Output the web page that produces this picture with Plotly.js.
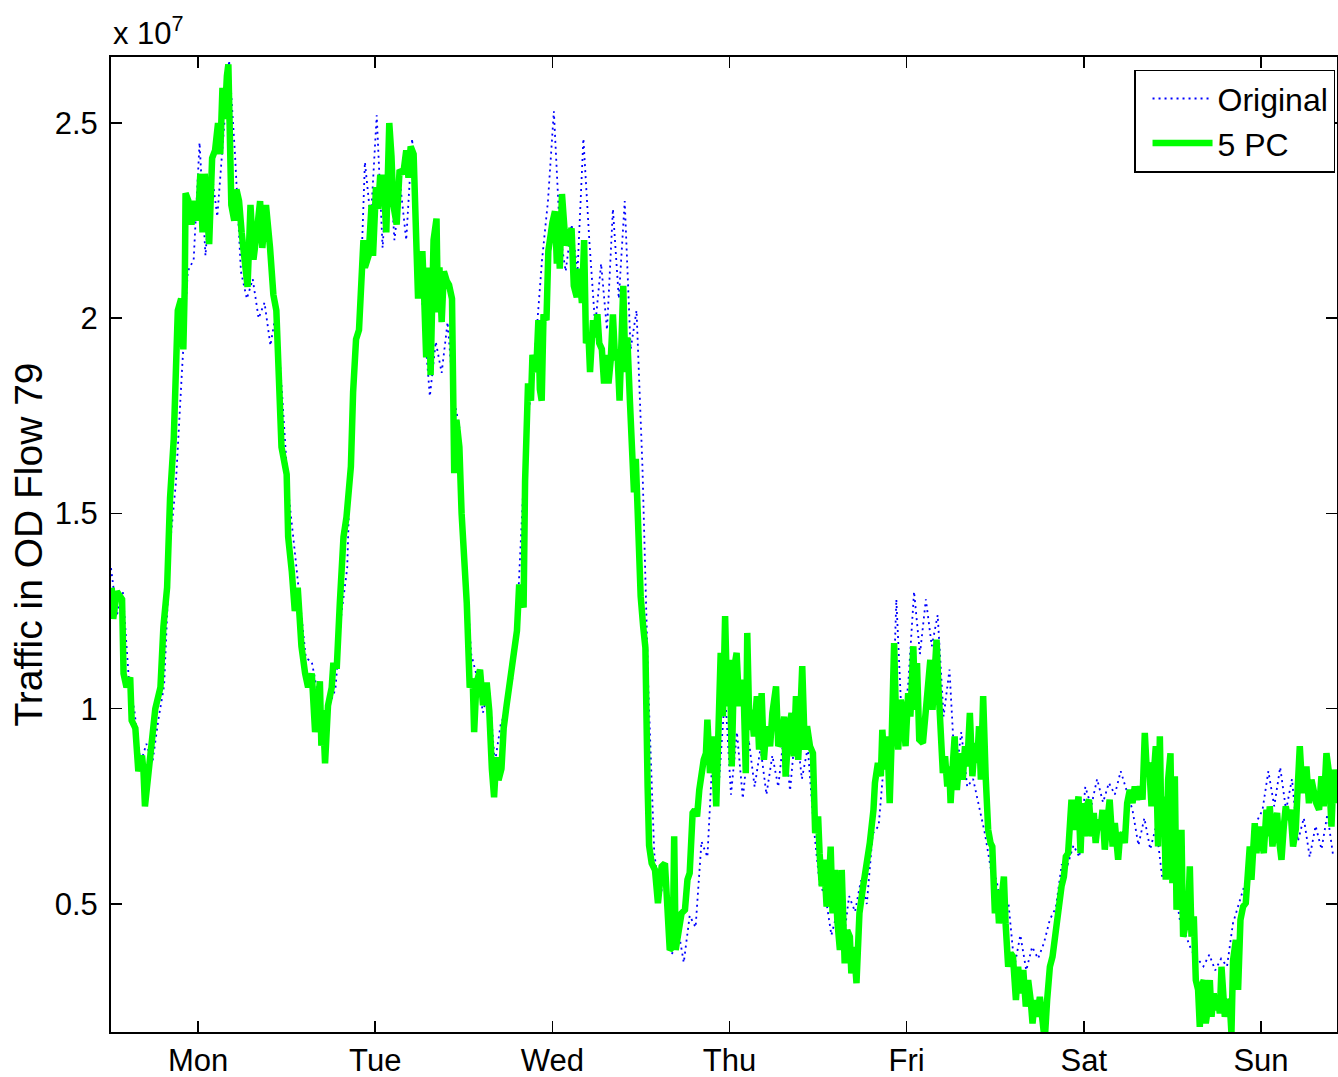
<!DOCTYPE html>
<html>
<head>
<meta charset="utf-8">
<script src="https://cdn.plot.ly/plotly-3.0.1.min.js"></script>
<style>html,body{margin:0;padding:0;background:#fff;}</style>
</head>
<body>
<div id="chart" style="width:1338px;height:1077px;"></div>
<script>
// Hours since Monday 00:00; values in units of 1e7
const dayTickHours = [12, 36, 60, 84, 108, 132, 156];
const dayLabels = ['Mon', 'Tue', 'Wed', 'Thu', 'Fri', 'Sat', 'Sun'];
const yTickVals = [0.5, 1, 1.5, 2, 2.5];
const yTickText = ['0.5', '1', '1.5', '2', '2.5'];

const origHours = [0.2,1,1.8,2.6,3.4,4.2,5,5.8,6.6,7.4,8.2,9,9.8,10.6,11.4,12.2,13,13.8,14.6,15.4,16.2,17,17.8,18.6,19.4,20.2,21,21.8,22.6,23.4,24.2,25,25.8,26.6,27.4,28.2,29,29.8,30.6,31.4,32.2,33,33.8,34.6,35.4,36.2,37,37.8,38.6,39.4,40.2,41,41.8,42.6,43.4,44.2,45,45.8,46.6,47.4,48.2,49,49.8,50.6,51.4,52.2,53,53.8,54.6,55.4,56.2,57,57.8,58.6,59.4,60.2,61,61.8,62.6,63.4,64.2,65,65.8,66.6,67.4,68.2,69,69.8,70.6,71.4,72.2,73,73.8,74.6,75.4,76.2,77,77.8,78.6,79.4,80.2,81,81.8,82.6,83.4,84.2,85,85.8,86.6,87.4,88.2,89,89.8,90.6,91.4,92.2,93,93.8,94.6,95.4,96.2,97,97.8,98.6,99.4,100.2,101,101.8,102.6,103.4,104.2,105,105.8,106.6,107.4,108.2,109,109.8,110.6,111.4,112.2,113,113.8,114.6,115.4,116.2,117,117.8,118.6,119.4,120.2,121,121.8,122.6,123.4,124.2,125,125.8,126.6,127.4,128.2,129,129.8,130.6,131.4,132.2,133,133.8,134.6,135.4,136.2,137,137.8,138.6,139.4,140.2,141,141.8,142.6,143.4,144.2,145,145.8,146.6,147.4,148.2,149,149.8,150.6,151.4,152.2,153,153.8,154.6,155.4,156.2,157,157.8,158.6,159.4,160.2,161,161.8,162.6,163.4,164.2,165,165.8];
const origValues = [1.36,1.24,1.30,1.08,0.99,0.86,0.91,0.86,0.97,1.06,1.42,1.58,1.86,2.12,2.15,2.45,2.16,2.38,2.26,2.47,2.66,2.42,2.12,2.05,2.10,2.00,2.04,1.93,2.02,1.80,1.56,1.42,1.27,1.13,1.12,1.04,
0.92,1.01,1.05,1.24,1.36,1.88,1.96,2.40,2.25,2.52,2.18,2.45,2.20,2.34,2.20,2.46,2.18,1.98,1.80,1.94,1.86,1.99,1.80,1.72,1.38,1.14,1.08,0.99,1.06,0.86,0.96,1.00,1.08,1.30,1.62,1.80,1.95,2.15,2.30,2.53,2.22,2.12,2.24,2.12,2.46,2.20,1.98,2.14,1.97,2.28,2.05,2.30,1.92,2.02,1.62,1.05,0.63,0.52,0.58,0.37,0.44,
0.35,0.47,0.44,0.66,0.62,0.92,0.82,1.04,0.78,0.94,0.77,0.92,0.80,0.90,0.78,0.88,0.80,0.94,0.79,0.96,0.82,0.90,0.70,0.55,0.52,0.42,0.48,0.40,0.52,0.48,0.56,0.50,0.68,0.70,0.88,0.80,1.28,0.94,1.06,1.30,1.14,1.28,1.16,1.24,0.98,1.10,0.82,0.94,0.80,0.82,0.75,0.68,0.59,0.56,0.46,0.50,0.34,0.42,0.33,0.39,0.36,0.40,0.46,0.49,0.60,0.60,0.65,0.62,0.80,0.75,0.82,0.76,0.81,0.78,0.84,0.79,0.74,0.65,0.72,0.64,0.70,0.57,0.62,0.56,0.46,0.42,0.38,0.36,0.34,0.37,0.33,0.36,0.34,0.45,0.50,0.55,0.64,0.71,0.74,0.84,0.75,0.85,0.74,0.82,0.66,0.72,0.62,0.70,0.64,0.73,0.62];

const pcHours = [0.3,0.5,1.0,1.7,1.9,2.3,2.8,3.0,3.5,3.9,4.4,4.6,4.8,5.3,5.7,6.2,6.9,7.3,7.8,8.2,8.7,8.9,9.25,9.7,10.0,10.2,10.3,10.7,11.1,11.6,12.0,12.3,12.6,12.9,13.2,13.5,13.9,14.3,14.7,15.0,15.3,15.6,15.9,16.1,16.5,16.9,17.2,17.55,17.9,18.4,18.7,19.1,19.5,19.95,20.4,20.7,21.2,21.75,22.2,22.6,22.9,23.3,24.0,24.2,24.7,25.1,25.5,26.0,26.5,26.9,27.4,27.85,28.5,
28.7,28.9,29.2,29.6,30.1,30.3,30.8,31.2,31.7,32.1,32.4,32.7,33.0,33.4,33.8,34.1,34.4,34.6,35.1,35.5,35.7,36.1,36.4,36.65,37.1,37.5,37.6,37.9,38.2,38.45,38.9,39.3,39.8,40.2,40.5,40.8,41.2,41.4,41.6,41.8,42.1,42.4,42.6,42.9,43.2,43.5,43.9,44.3,44.5,44.7,45.0,45.3,45.7,46.0,46.4,46.7,47.0,47.4,47.7,47.9,48.4,48.8,49.2,49.4,49.7,50.2,
50.6,51.1,51.45,51.8,52.1,52.4,52.7,53.1,53.4,53.8,54.3,54.7,55.2,55.5,56.1,56.3,56.5,56.7,57.1,57.3,57.8,58.1,58.3,58.55,58.8,59.2,59.45,59.7,60.0,60.35,60.6,60.8,61.0,61.3,61.5,61.8,62.3,62.6,62.9,63.3,63.6,64.0,64.3,64.55,64.9,65.1,65.5,65.8,66.1,66.35,66.7,67.0,67.3,67.6,67.9,68.2,68.5,68.8,69.1,69.4,69.6,69.9,70.15,70.5,70.9,71.05,71.3,71.6,71.96,72.3,72.6,72.9,73.1,
73.45,73.9,74.3,74.8,75.25,75.6,75.9,76.3,76.5,76.7,77.2,77.5,77.96,78.3,78.6,79.0,79.3,79.6,79.9,80.2,80.5,80.8,81.0,81.35,81.8,82.2,82.5,82.8,83.1,83.4,83.7,84.05,84.3,84.6,84.96,85.3,85.6,85.95,86.2,86.4,86.7,87.0,87.3,87.7,88.0,88.35,88.66,89.0,89.5,89.8,90.3,90.6,91.06,91.4,91.6,91.95,92.4,92.7,93.0,93.3,93.6,93.85,94.2,94.5,94.9,95.3,95.6,96.0,96.2,96.5,96.8,97.15,97.5,97.7,97.96,98.3,98.6,98.95,99.2,99.4,99.6,99.94,100.3,100.5,100.85,101.2,101.6,
102.1,102.6,103.0,103.5,103.7,104.1,104.5,104.7,105.05,105.36,105.7,105.95,106.3,106.5,106.85,107.2,107.5,107.85,108.2,108.5,108.9,109.15,109.4,109.7,110.2,110.6,110.9,111.2,111.5,111.8,112.05,112.3,112.5,112.7,112.9,113.2,113.5,113.76,113.95,114.2,114.5,114.8,115.2,115.6,115.9,116.2,116.56,116.9,117.24,117.55,117.8,118.05,118.36,118.7,119.04,119.36,119.6,119.95,120.26,120.5,120.85,121.17,121.4,121.75,122.07,122.4,122.8,123.1,123.4,123.8,124.14,124.46,124.8,125.05,125.36,125.7,126.04,126.4,126.7,127.03,127.4,127.76,128.07,128.4,128.65,128.98,129.3,129.56,129.87,130.1,130.33,130.65,131.0,131.28,131.55,131.8,
132.14,132.37,132.7,133.04,133.35,133.6,133.94,134.26,134.53,134.84,135.16,135.5,135.9,136.2,136.65,136.9,137.24,137.55,137.87,138.23,138.6,138.9,139.2,139.6,139.95,140.26,140.5,140.84,141.17,141.5,141.75,142.06,142.3,142.52,142.84,143.1,143.42,143.74,144.0,144.33,144.56,144.9,145.23,145.45,145.8,146.13,146.36,146.59,146.9,147.17,147.48,147.71,147.94,148.25,148.52,148.84,149.07,149.3,149.6,149.88,150.19,150.42,150.65,150.87,151.1,151.4,151.77,152.0,152.22,152.59,152.9,153.22,153.58,153.94,154.25,154.48,154.71,154.93,155.16,155.39,155.74,156.07,156.38,156.74,156.96,157.19,157.56,157.87,158.18,158.45,158.78,159.09,159.36,159.67,160.0,160.35,160.71,161.03,161.26,161.49,161.8,162.16,162.5,162.84,163.15,163.5,163.87,164.19,164.5,164.87,165.22,165.55,165.86,166.2];
const pcValues = [1.31,1.23,1.30,1.28,1.09,1.055,1.08,0.97,0.95,0.84,0.88,0.84,0.75,0.85,0.90,1.0,1.055,1.21,1.31,1.54,1.69,1.85,2.02,2.05,1.92,2.09,2.32,2.30,2.24,2.30,2.25,2.37,2.22,2.37,2.28,2.19,2.41,2.43,2.50,2.42,2.59,2.51,2.62,2.65,2.29,2.25,2.33,2.30,2.22,2.14,2.08,2.29,2.15,2.22,2.30,2.18,2.29,2.18,2.06,2.02,1.86,1.67,1.60,1.44,1.35,1.25,1.31,1.16,1.09,1.055,1.09,0.94,1.07,
0.905,0.996,0.86,1.008,1.054,1.11,1.11,1.27,1.44,1.49,1.56,1.62,1.81,1.946,1.97,2.095,2.20,2.13,2.16,2.29,2.16,2.336,2.28,2.36,2.36,2.22,2.37,2.50,2.415,2.29,2.24,2.38,2.37,2.43,2.36,2.44,2.42,2.30,2.164,2.05,2.164,2.164,2.07,1.90,2.13,1.854,2.20,2.255,2.015,2.13,1.99,2.12,2.095,2.085,2.05,1.603,1.74,1.67,1.50,1.44,1.27,1.054,1.077,0.94,1.064,1.10,
1.009,1.067,0.994,0.846,0.773,0.876,0.817,0.846,0.95,1.009,1.082,1.11,1.20,1.318,1.259,1.583,1.73,1.833,1.789,1.906,1.862,1.995,1.818,1.789,2.01,1.995,2.172,2.215,2.245,2.274,2.14,2.245,2.127,2.318,2.23,2.186,2.215,2.23,2.083,2.054,2.127,2.039,2.20,1.936,1.951,1.862,1.995,1.951,2.01,1.936,1.921,1.833,1.906,1.833,1.892,2.01,1.892,1.921,1.789,1.921,2.083,1.862,1.951,1.789,1.64,1.554,1.64,1.465,1.288,1.21,1.156,0.80,0.65,
0.604,0.587,0.502,0.596,0.604,0.493,0.382,0.39,0.673,0.382,0.459,0.476,0.485,0.562,0.579,0.733,0.741,0.724,0.792,0.852,0.869,0.886,0.972,0.835,0.929,0.75,1.04,1.143,0.98,1.237,1.006,1.125,0.852,1.10,1.143,1.006,1.074,1.015,0.835,1.194,0.946,0.997,0.929,1.032,0.895,1.04,0.869,0.955,0.904,0.989,1.057,0.904,0.921,0.98,0.826,0.929,0.989,0.878,1.032,0.869,0.989,1.109,0.895,0.955,0.904,0.886,0.681,0.724,0.63,0.545,0.613,0.493,0.562,0.647,0.476,0.587,0.459,0.382,0.587,0.425,0.348,0.433,0.416,0.322,0.39,0.297,0.476,
0.545,0.604,0.656,0.741,0.81,0.861,0.827,0.946,0.844,0.929,0.758,0.912,1.168,1.015,0.895,1.023,0.989,0.904,1.04,0.98,1.16,0.997,1.117,0.921,0.912,0.997,1.074,1.125,0.997,1.10,1.177,1.057,0.98,0.912,0.835,0.878,0.801,0.852,0.758,0.844,0.929,0.792,0.886,0.818,0.904,0.852,0.989,0.827,0.912,0.861,0.955,0.818,1.032,0.827,0.69,0.656,0.647,0.476,0.536,0.45,0.502,0.57,0.45,0.339,0.374,0.365,0.254,0.339,0.271,0.331,0.237,0.305,0.254,0.194,0.254,0.211,0.262,0.177,0.15,0.254,0.339,0.365,0.416,0.45,0.485,0.545,0.57,0.621,0.63,0.733,0.767,0.69,0.758,0.775,0.63,0.758,
0.673,0.75,0.767,0.673,0.733,0.656,0.716,0.69,0.741,0.639,0.707,0.767,0.647,0.707,0.613,0.673,0.681,0.656,0.758,0.792,0.758,0.801,0.767,0.801,0.767,0.938,0.852,0.861,0.75,0.886,0.904,0.647,0.929,0.69,0.775,0.562,0.818,0.886,0.553,0.827,0.485,0.604,0.69,0.416,0.442,0.476,0.596,0.416,0.468,0.305,0.28,0.185,0.288,0.305,0.194,0.237,0.305,0.211,0.271,0.228,0.254,0.22,0.339,0.254,0.211,0.254,0.245,0.168,0.356,0.408,0.28,0.459,0.493,0.502,0.596,0.647,0.562,0.664,0.707,0.63,0.698,0.664,0.63,0.741,0.673,0.75,0.647,0.707,0.733,0.664,0.613,0.698,0.75,0.716,0.741,0.647,0.69,0.818,0.904,0.827,0.784,0.852,0.758,0.818,0.784,0.758,0.741,0.827,0.75,0.886,0.835,0.698,0.844,0.758];

const FONT = 'Liberation Sans, Arial, Helvetica, sans-serif';

const traces = [
  {
    x: origHours, y: origValues, type: 'scatter', mode: 'lines', name: 'Original',
    line: {color: '#0000ff', width: 1.8, dash: '2px,4px'}
  },
  {
    x: pcHours, y: pcValues, type: 'scatter', mode: 'lines', name: '5 PC',
    line: {color: '#00ff00', width: 6.5}
  }
];

const layout = {
  width: 1338, height: 1077,
  margin: {l: 111, r: 1, t: 57, b: 45},
  paper_bgcolor: '#ffffff', plot_bgcolor: '#ffffff',
  font: {family: FONT, size: 31, color: '#000'},
  showlegend: true,
  legend: {
    x: 0.9984, xanchor: 'right', y: 0.987, yanchor: 'top',
    bgcolor: '#ffffff', bordercolor: '#000', borderwidth: 1.5,
    itemwidth: 60, tracegroupgap: 0, indentation: 12,
    font: {family: FONT, size: 32, color: '#000'}
  },
  xaxis: {
    range: [0.2, 166.3], tickmode: 'array', tickvals: dayTickHours, ticktext: dayLabels,
    ticks: 'inside', ticklen: 11, tickwidth: 1.5, tickcolor: '#000',
    showline: true, linecolor: '#000', linewidth: 2, mirror: 'ticks',
    showgrid: false, zeroline: false, ticklabelstandoff: 0,
    tickfont: {family: FONT, size: 31, color: '#000'}
  },
  yaxis: {
    range: [0.172, 2.669], tickmode: 'array', tickvals: yTickVals, ticktext: yTickText,
    ticks: 'inside', ticklen: 11, tickwidth: 1.5, tickcolor: '#000',
    showline: true, linecolor: '#000', linewidth: 2, mirror: 'ticks',
    showgrid: false, zeroline: false, ticklabelstandoff: 5,
    tickfont: {family: FONT, size: 31, color: '#000'},
    title: {text: 'Traffic in OD Flow 79', font: {family: FONT, size: 39, color: '#000'}, standoff: 0}
  },
  annotations: [{
    text: 'x 10<sup>7</sup>', xref: 'paper', yref: 'paper', x: 0, y: 1,
    xanchor: 'left', yanchor: 'bottom', showarrow: false, yshift: 4,
    font: {family: FONT, size: 31, color: '#000'}
  }]
};

Plotly.newPlot('chart', traces, layout, {staticPlot: true, displayModeBar: false});
</script>
</body>
</html>
